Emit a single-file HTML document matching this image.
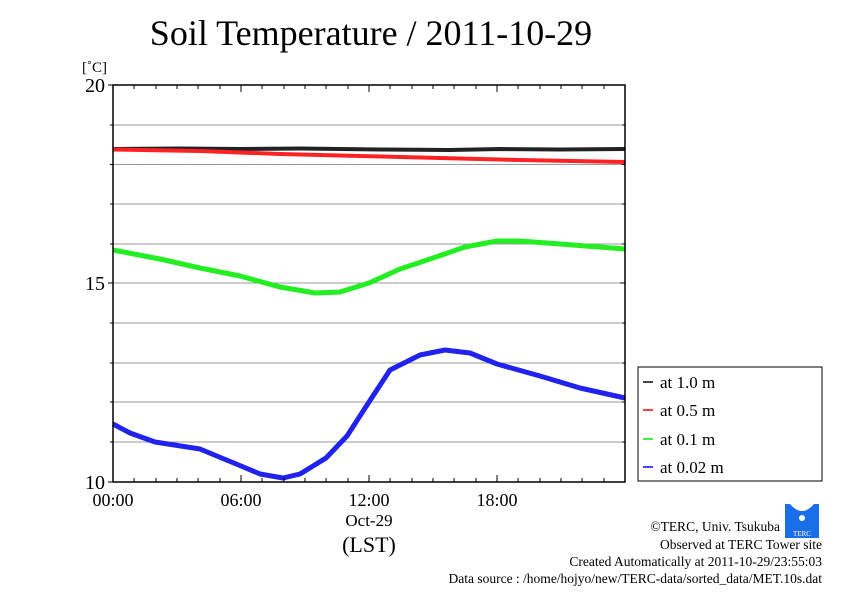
<!DOCTYPE html>
<html><head><meta charset="utf-8"><style>
body{margin:0;background:#fff;}
svg text{font-family:"Liberation Serif",serif;}
</style></head><body>
<svg width="842" height="595" viewBox="0 0 842 595" xmlns="http://www.w3.org/2000/svg">
<rect width="842" height="595" fill="#fff"/>
<text x="371" y="45" font-size="36" text-anchor="middle">Soil Temperature / 2011-10-29</text>
<text x="82" y="72" font-size="15">[˚C]</text>
<g stroke="#999" stroke-width="1">
<line x1="113" x2="625" y1="125" y2="125"/><line x1="113" x2="625" y1="164.5" y2="164.5"/>
<line x1="113" x2="625" y1="204" y2="204"/><line x1="113" x2="625" y1="244" y2="244"/>
<line x1="113" x2="625" y1="283" y2="283"/><line x1="113" x2="625" y1="323" y2="323"/>
<line x1="113" x2="625" y1="363" y2="363"/><line x1="113" x2="625" y1="402" y2="402"/>
<line x1="113" x2="625" y1="442" y2="442"/>
</g>
<g fill="none" stroke-linejoin="round">
<polyline stroke="#222" stroke-width="4" points="113,149 180,148.5 240,149 300,148.5 380,149.5 450,150 500,149 560,149.5 625,149"/>
<polyline stroke="#f22" stroke-width="4" points="113,149.5 200,151 280,154 360,156 440,158 520,160 625,162"/>
<polyline stroke="#2e2" stroke-width="5" points="113,250 160,259 200,268 240,276 280,287 315,293 340,292 369,283 400,269 433,258 465,247 497,241 520,241 560,244 625,249"/>
<polyline stroke="#22e" stroke-width="5" points="113,424 130,433 155,442 200,449 241,466 260,474 283,478 300,474 326,458 347,436 369,402 390,370 420,355 445,350 470,353 497,364 540,376 580,388 625,398"/>
</g>
<rect x="113" y="85" width="512" height="397" fill="none" stroke="#000" stroke-width="1.5"/>
<g stroke="#000" stroke-width="1">
<path d="M134,85v4M156,85v4M177,85v4M198,85v4M220,85v4M241,85v7M262,85v4M284,85v4M305,85v4M326,85v4M348,85v4M369,85v7M390,85v4M412,85v4M433,85v4M454,85v4M476,85v4M497,85v7M518,85v4M540,85v4M561,85v4M582,85v4M604,85v4"/>
<path d="M134,482v-4M156,482v-4M177,482v-4M198,482v-4M220,482v-4M241,482v-7M262,482v-4M284,482v-4M305,482v-4M326,482v-4M348,482v-4M369,482v-7M390,482v-4M412,482v-4M433,482v-4M454,482v-4M476,482v-4M497,482v-7M518,482v-4M540,482v-4M561,482v-4M582,482v-4M604,482v-4"/>
<path d="M108,85h5M108,283h5M108,482h5M110,125h3M110,164.5h3M110,204h3M110,244h3M110,323h3M110,363h3M110,402h3M110,442h3M625,125h-3M625,164.5h-3M625,204h-3M625,244h-3M625,283h-5M625,323h-3M625,363h-3M625,402h-3M625,442h-3"/>
</g>
<g font-size="20" text-anchor="end"><text x="105" y="92">20</text><text x="105" y="290">15</text><text x="105" y="489">10</text></g>
<g font-size="18" text-anchor="middle"><text x="113" y="506">00:00</text><text x="241" y="506">06:00</text><text x="369" y="506">12:00</text><text x="497" y="506">18:00</text>
<text x="369" y="526" font-size="17">Oct-29</text><text x="369" y="552" font-size="22">(LST)</text></g>
<rect x="638" y="367" width="184" height="114" fill="#fff" stroke="#000" stroke-width="1"/>
<g stroke-width="2"><line x1="643" x2="653" y1="382" y2="382" stroke="#444"/><line x1="643" x2="653" y1="410" y2="410" stroke="#f44"/><line x1="643" x2="653" y1="439" y2="439" stroke="#4e4"/><line x1="643" x2="653" y1="467" y2="467" stroke="#44e"/></g>
<g font-size="17"><text x="660" y="388">at 1.0 m</text><text x="660" y="416">at 0.5 m</text><text x="660" y="445">at 0.1 m</text><text x="660" y="473">at 0.02 m</text></g>
<rect x="785" y="504" width="34" height="34" fill="#1a6fe8"/>
<path d="M790,504 q12,14 24,0z" fill="#fff"/>
<circle cx="802" cy="518" r="3" fill="#fff"/>
<text x="802" y="536" font-size="7" fill="#fff" text-anchor="middle">TERC</text>
<g font-size="13.5" text-anchor="end"><text x="780" y="531">©TERC, Univ. Tsukuba</text><text x="822" y="549">Observed at TERC Tower site</text><text x="822" y="566">Created Automatically at 2011-10-29/23:55:03</text><text x="822" y="583">Data source : /home/hojyo/new/TERC-data/sorted_data/MET.10s.dat</text></g>
</svg>
</body></html>
